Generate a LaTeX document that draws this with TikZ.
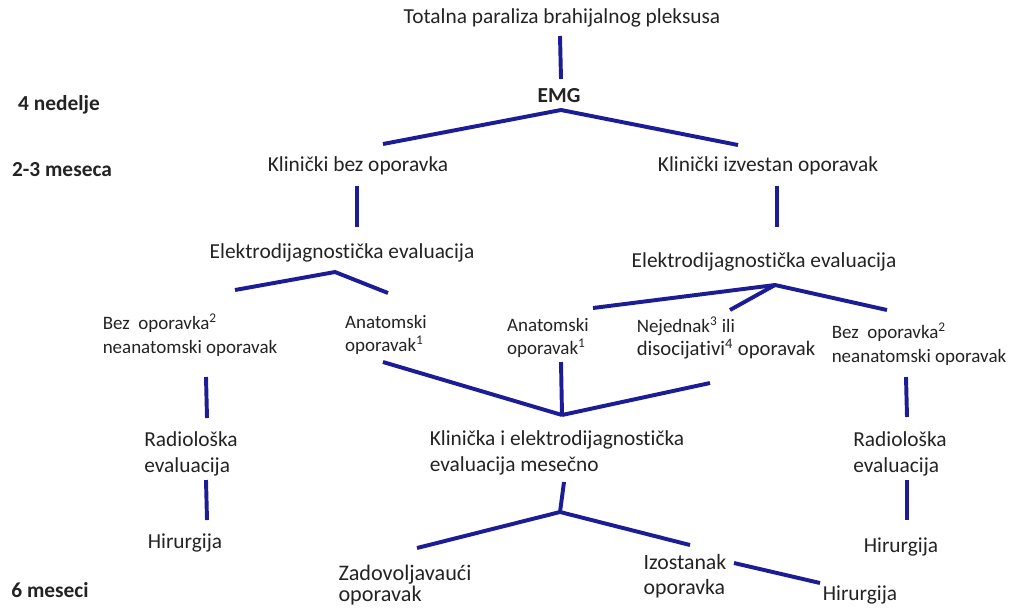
\documentclass[tikz,border=0pt]{standalone}
\usepackage{fontspec}
\setmainfont{Carlito}[Ligatures=NoCommon]
\definecolor{linkblue}{RGB}{28,28,150}
\definecolor{txtgray}{RGB}{35,35,35}

\begin{document}
\begin{tikzpicture}[x=0.025cm, y=-0.025cm,
        txt/.style={inner sep=0pt, text=txtgray, align=center, font=\fontsize{15.2}{18}\selectfont},
        small/.style={txt, align=left, font=\fontsize{13.5}{16.5}\selectfont},
        period/.style={inner sep=0pt, text=txtgray, font=\bfseries\fontsize{15.2}{18}\selectfont},
        link/.style={draw=linkblue, line width=2.8pt}]
        \useasboundingbox (0,0) rectangle (1010,607);

        % time axis
        \node[period] (t4) at (59,105) {4 nedelje};
        \node[period] (t23) at (62,170) {2-3 meseca};
        \node[period] (t6) at (50,590) {6 meseci};

        % top
        \node[txt] (root) at (562,18) {Totalna paraliza brahijalnog pleksusa};
        \node[period] (emg) at (559,96) {EMG};
        \coordinate (r1) at (560,36); \coordinate (r2) at (561,79);
        \draw[link] (r1) -- (r2);
        \coordinate (e0) at (561,110);
        \coordinate (e1) at (383,144); \coordinate (e2) at (738,145);
        \draw[link] (e1) -- (e0) -- (e2);

        % clinical
        \node[txt] (kbez) at (358,166) {Klinički bez oporavka};
        \node[txt] (kizv) at (768,166) {Klinički izvestan oporavak};
        \coordinate (kb1) at (357,186); \coordinate (kb2) at (357,227);
        \coordinate (ki1) at (777,186); \coordinate (ki2) at (777,227);
        \draw[link] (kb1) -- (kb2);
        \draw[link] (ki1) -- (ki2);

        % left evaluation
        \node[txt] (edL) at (342,253) {Elektrodijagnostička evaluacija};
        \coordinate (l0) at (335,272);
        \coordinate (l1) at (235,290); \coordinate (l2) at (388,293);
        \draw[link] (l1) -- (l0) -- (l2);
        \node[small] (bezL) at (190,335) {Bez\ \ oporavka\textsuperscript{2}\\neanatomski oporavak};
        \node[small] (anaL) at (386,335) {Anatomski\\oporavak\textsuperscript{1}};

        % right evaluation
        \node[txt] (edR) at (764,262) {Elektrodijagnostička evaluacija};
        \coordinate (q0) at (775,285);
        \coordinate (q1) at (593,308); \coordinate (q2) at (730,310); \coordinate (q3) at (887,310);
        \draw[link] (q1) -- (q0) -- (q3);
        \draw[link] (q2) -- (q0);
        \node[small] (anaR) at (548,338) {Anatomski\\oporavak\textsuperscript{1}};
        \node[small] (nej) at (726,338) {Nejednak\textsuperscript{3} ili\\{\fontsize{14.7}{17}\selectfont disocijativi\textsuperscript{4} oporavak}};
        \node[small] (bezR) at (919,344) {Bez\ \ oporavka\textsuperscript{2}\\neanatomski oporavak};

        % monthly evaluation
        \coordinate (m0) at (562,415);
        \coordinate (m1) at (383,362); \coordinate (m2) at (561,362); \coordinate (m3) at (710,383);
        \foreach \p in {m1,m2,m3} \draw[link] (\p) -- (m0);
        \node[txt, align=left] (kl) at (557,453) {Klinička i elektrodijagnostička\\evaluacija mesečno};
        \coordinate (k1) at (564,482); \coordinate (k0) at (560,512);
        \coordinate (k2) at (417,548); \coordinate (k3) at (690,545);
        \draw[link] (k1) -- (k0);
        \draw[link] (k2) -- (k0) -- (k3);
        \node[txt, align=left, font=\fontsize{15.8}{15}\selectfont] (zad) at (405,585) {Zadovoljavaući\\oporavak};
        \node[txt, align=left, font=\fontsize{15.5}{18}\selectfont] (izo) at (685,576) {Izostanak\\oporavka};
        \node[txt] (hirM) at (860,595) {Hirurgija};
        \coordinate (i1) at (734,563); \coordinate (i2) at (820,583);
        \draw[link] (i1) -- (i2);

        % left column
        \coordinate (a1) at (206,377); \coordinate (a2) at (207,418);
        \coordinate (a3) at (206,480); \coordinate (a4) at (207,520);
        \draw[link] (a1) -- (a2);
        \draw[link] (a3) -- (a4);
        \node[txt, align=left] (radL) at (191,454) {Radiološka\\evaluacija};
        \node[txt] (hirL) at (185,543) {Hirurgija};

        % right column
        \coordinate (b1) at (906,377); \coordinate (b2) at (907,417);
        \coordinate (b3) at (907,480); \coordinate (b4) at (907,520);
        \draw[link] (b1) -- (b2);
        \draw[link] (b3) -- (b4);
        \node[txt, align=left] (radR) at (900,454) {Radiološka\\evaluacija};
        \node[txt] (hirR) at (901,547) {Hirurgija};
\end{tikzpicture}
\end{document}
